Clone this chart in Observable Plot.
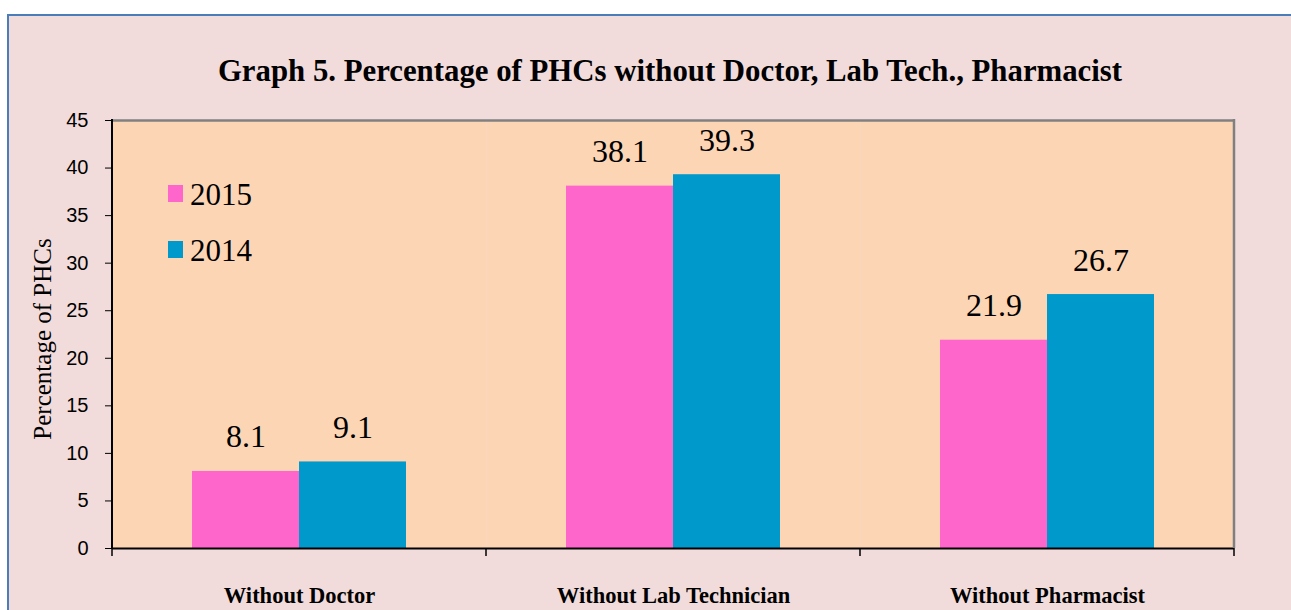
<!DOCTYPE html>
<html>
<head>
<meta charset="utf-8">
<script src="https://cdn.jsdelivr.net/npm/d3@7"></script>
<script src="https://cdn.jsdelivr.net/npm/@observablehq/plot@0.6"></script>
<style>
  html, body { margin: 0; padding: 0; background: #ffffff; }
  #wrap { position: relative; width: 1291px; height: 610px; overflow: hidden; }
  #frame { position: absolute; left: 7px; top: 14px; width: 1320px; height: 640px; background: #f2dcdb;
           border-top: 2px solid #4a7ebb; border-left: 2px solid #4a7ebb; }
  #title { position: absolute; left: 0; top: 56px; width: 1340px; text-align: center;
           font-family: "Liberation Serif", "Times New Roman", serif; font-weight: bold; font-size: 30.8px;
           line-height: 30px; color: #000; white-space: nowrap; }
  #chart { position: absolute; left: 0; top: 0; }
</style>
</head>
<body>
<div id="wrap">
  <div id="frame"></div>
  <div id="title"></div>
  <div id="chart"></div>
</div>
<script>
const titleText = "Graph 5. Percentage of PHCs without Doctor, Lab Tech., Pharmacist";
const yLabel = "Percentage of PHCs";
const categories = ["Without Doctor", "Without Lab Technician", "Without Pharmacist"];
const years = ["2015", "2014"];
const values2015 = [8.1, 38.1, 21.9];
const values2014 = [9.1, 39.3, 26.7];
const yTicks = [0, 5, 10, 15, 20, 25, 30, 35, 40, 45];
const colors = ["#ff66cc", "#0099cc"];

document.getElementById("title").textContent = titleText;

const data = categories.flatMap((c, i) => [
  {category: c, year: years[0], value: values2015[i]},
  {category: c, year: years[1], value: values2014[i]}
]);

const serif = "'Liberation Serif', 'Times New Roman', serif";
const sans = "'Liberation Sans', Arial, sans-serif";

const plot = Plot.plot({
  width: 1291,
  height: 610,
  marginLeft: 112,
  marginRight: 57,
  marginTop: 120,
  marginBottom: 62,
  style: {background: "transparent", overflow: "visible", fontFamily: serif, color: "#000"},
  facet: {data, x: "category"},
  fx: {domain: categories, padding: 0, label: null, tickSize: 0, tickPadding: 39, axis: "bottom"},
  x: {domain: years, paddingInner: 0, paddingOuter: 0.7477, round: false, axis: null},
  y: {domain: [0, 45], ticks: yTicks, tickSize: 7, tickPadding: 17, label: null},
  color: {domain: years, range: colors},
  marks: [
    Plot.frame({fill: "#fcd5b5", stroke: "none"}),
    Plot.barY(data, {x: "year", y: "value", fill: "year"}),
    Plot.text(data, {x: "year", y: "value", text: d => d.value.toFixed(1), dy: -24, lineAnchor: "bottom",
                     fontSize: 32, fill: "#000"}),
    Plot.ruleY([45], {stroke: "#808080", strokeWidth: 2.5}),
    Plot.ruleY([0], {stroke: "#000", strokeWidth: 2})
  ]
});

document.getElementById("chart").appendChild(plot);

const svg = d3.select(plot);
svg.selectAll('[aria-label^="y-axis"] text')
  .style("font-family", sans).style("font-size", "20px").attr("fill", "#000");
svg.selectAll('[aria-label^="fx-axis"] text')
  .style("font-family", serif).style("font-size", "22.5px").style("font-weight", "bold").attr("fill", "#000");

const fx = plot.scale("fx");
const y = plot.scale("y");
const color = plot.scale("color");
const x0 = fx.apply(categories[0]);
const xEnd = fx.apply(categories[categories.length - 1]) + fx.bandwidth;
const yTop = y.apply(45), yBot = y.apply(0);

const g = svg.append("g");
// right border (grey) and left axis line (black)
g.append("line").attr("x1", xEnd).attr("x2", xEnd).attr("y1", yTop - 1).attr("y2", yBot)
  .attr("stroke", "#808080").attr("stroke-width", 2.5);
g.append("line").attr("x1", x0).attr("x2", x0).attr("y1", yTop - 1).attr("y2", yBot + 1)
  .attr("stroke", "#000").attr("stroke-width", 2);
// category boundary ticks
const bounds = categories.map(c => fx.apply(c)).concat([xEnd]);
g.selectAll("line.bt").data(bounds).join("line")
  .attr("x1", d => d).attr("x2", d => d).attr("y1", yBot).attr("y2", yBot + 8)
  .attr("stroke", "#000").attr("stroke-width", 1.5);

// y-axis title
svg.append("text")
  .attr("transform", `translate(42,${(yTop + yBot) / 2 + 5}) rotate(-90)`)
  .attr("text-anchor", "middle").attr("dy", "0.35em")
  .style("font-family", serif).style("font-size", "25px").attr("fill", "#000")
  .text(yLabel);

// legend
const leg = svg.append("g").attr("text-anchor", "start");
years.forEach((yr, i) => {
  const base = 205 + i * 56;
  leg.append("rect").attr("x", 168).attr("y", base - 20).attr("width", 15).attr("height", 17)
    .attr("fill", color.apply(yr));
  leg.append("text").attr("x", 190).attr("y", base).attr("text-anchor", "start")
    .style("font-family", serif).style("font-size", "31px").attr("fill", "#000").text(yr);
});
</script>
</body>
</html>
